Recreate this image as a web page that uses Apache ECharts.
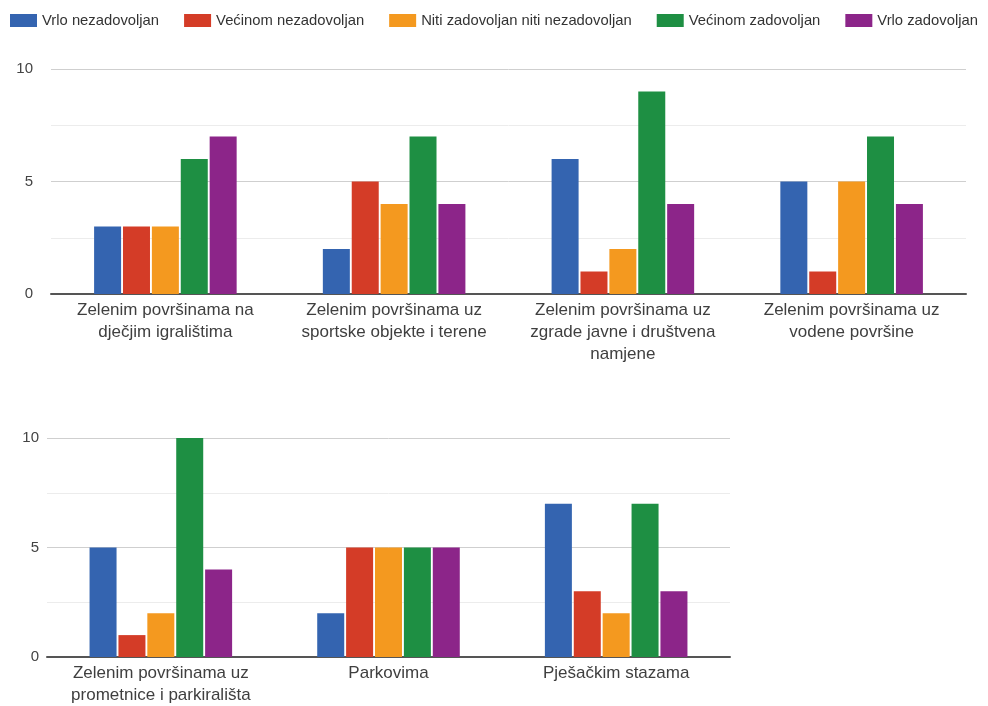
<!DOCTYPE html>
<html>
<head>
<meta charset="utf-8">
<script src="https://cdn.jsdelivr.net/npm/echarts@6/dist/echarts.min.js"></script>
<style>
html,body{margin:0;padding:0;background:#fff;}
#chart{width:988px;height:706px;}
</style>
</head>
<body>
<div id="chart"></div>
<script>
// Legend / series names
const seriesNames = ['Vrlo nezadovoljan', 'Većinom nezadovoljan', 'Niti zadovoljan niti nezadovoljan', 'Većinom zadovoljan', 'Vrlo zadovoljan'];

// Categories (upper panel and lower panel)
const categoriesTop = [
  'Zelenim površinama na\ndječjim igralištima',
  'Zelenim površinama uz\nsportske objekte i terene',
  'Zelenim površinama uz\nzgrade javne i društvena\nnamjene',
  'Zelenim površinama uz\nvodene površine'
];
const categoriesBottom = [
  'Zelenim površinama uz\nprometnice i parkirališta',
  'Parkovima',
  'Pješačkim stazama'
];

// Values per series, upper panel
const vrloNezadovoljanTop    = [3, 2, 6, 5];
const vecinomNezadovoljanTop = [3, 5, 1, 1];
const nitiTop                = [3, 4, 2, 5];
const vecinomZadovoljanTop   = [6, 7, 9, 7];
const vrloZadovoljanTop      = [7, 4, 4, 4];

// Values per series, lower panel
const vrloNezadovoljanBottom    = [5, 2, 7];
const vecinomNezadovoljanBottom = [1, 5, 3];
const nitiBottom                = [2, 5, 2];
const vecinomZadovoljanBottom   = [10, 5, 7];
const vrloZadovoljanBottom      = [4, 5, 3];

// Y axis ticks
const yMin = 0, yMax = 10, yStep = 2.5;
const yLabelValues = [0, 5, 10];

const colors = ['#3464b0', '#d43c27', '#f4991f', '#1e8f43', '#8c2589'];
const FONT = "'Liberation Sans', Arial, sans-serif";

const topData = [vrloNezadovoljanTop, vecinomNezadovoljanTop, nitiTop, vecinomZadovoljanTop, vrloZadovoljanTop];
const bottomData = [vrloNezadovoljanBottom, vecinomNezadovoljanBottom, nitiBottom, vecinomZadovoljanBottom, vrloZadovoljanBottom];

function xAxis(gridIndex, cats) {
  return {
    type: 'category', gridIndex, data: cats,
    axisTick: { show: false },
    axisLine: { lineStyle: { color: '#555', width: 2 } },
    axisLabel: { color: '#3f3f3f', fontSize: 17, fontFamily: FONT, lineHeight: 22, margin: 5, interval: 0 }
  };
}
function yAxis(gridIndex, margin) {
  return {
    type: 'value', gridIndex, min: yMin, max: yMax, interval: yStep,
    axisLine: { show: false }, axisTick: { show: false },
    axisLabel: {
      color: '#444', fontSize: 15, fontFamily: FONT, margin,
      formatter: v => (yLabelValues.indexOf(v) >= 0 ? String(v) : '')
    },
    splitLine: { lineStyle: { color: ['#cfcfcf', '#ececec'], width: 1 } }
  };
}

const series = [];
[topData, bottomData].forEach((grp, gi) => {
  grp.forEach((vals, si) => {
    series.push({
      type: 'bar', name: seriesNames[si], xAxisIndex: gi, yAxisIndex: gi,
      data: vals, barWidth: 27, barGap: '7%',
      itemStyle: { color: colors[si] }
    });
  });
});

const chart = echarts.init(document.getElementById('chart'));
chart.setOption({
  animation: false,
  color: colors,
  textStyle: { fontFamily: FONT },
  legend: {
    data: seriesNames, left: 10, top: 13, padding: 0,
    itemWidth: 27, itemHeight: 13, itemGap: 25,
    icon: 'rect',
    textStyle: { color: '#333', fontSize: 14.8, fontFamily: FONT }
  },
  grid: [
    { left: 51, top: 69, width: 915, height: 225 },
    { left: 47, top: 438, width: 683, height: 224 }
  ],
  xAxis: [xAxis(0, categoriesTop), xAxis(1, categoriesBottom)],
  yAxis: [yAxis(0, 18), yAxis(1, 8)],
  series
});
</script>
</body>
</html>
